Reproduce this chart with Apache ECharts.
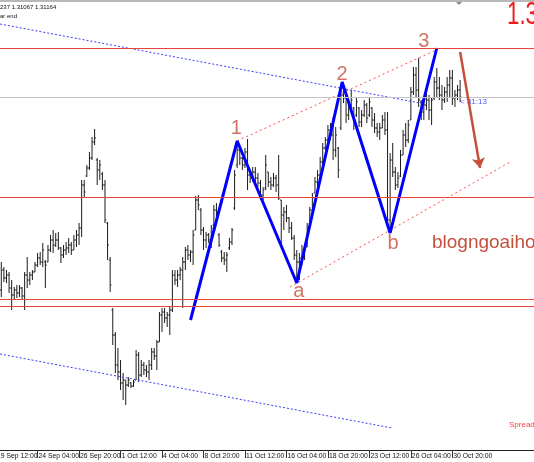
<!DOCTYPE html>
<html>
<head>
<meta charset="utf-8">
<script src="https://cdn.jsdelivr.net/npm/echarts@6/dist/echarts.min.js"></script>
<style>
  html, body { margin: 0; padding: 0; background: #fff; }
  #main { width: 534px; height: 462px; }
</style>
</head>
<body>
<div id="main"></div>
<script>
// H4 bars, 19 Sep - 30 Oct
let opens = [1.2923,1.2943,1.2935,1.2938,1.2925,1.2918,1.2923,1.2920,1.2925,1.2917,1.2938,1.2933,1.2938,1.2941,1.2948,1.2955,1.2951,1.2951,1.2951,1.2963,
1.2973,1.2968,1.2973,1.2965,1.2958,1.2963,1.2965,1.2968,1.2963,1.2973,1.2978,1.2985,1.3028,1.3037,1.3045,1.3055,1.3071,1.3053,1.3043,1.3039,
1.3028,1.2990,1.2953,1.2903,1.2878,1.2848,1.2841,1.2830,1.2833,1.2828,1.2830,1.2827,1.2833,1.2858,1.2838,1.2848,1.2843,1.2841,1.2848,1.2861,
1.2857,1.2871,1.2898,1.2901,1.2895,1.2898,1.2903,1.2938,1.2933,1.2938,1.2943,1.2951,1.2963,1.2958,1.2961,1.2983,1.3013,1.3003,1.2983,1.2973,
1.2978,1.2973,1.2988,1.3003,1.2978,1.2961,1.2955,1.2953,1.2965,1.2971,1.3005,1.3048,1.3063,1.3055,1.3048,1.3061,1.3038,1.3035,1.3041,1.3035,
1.3030,1.3018,1.3025,1.3041,1.3031,1.3028,1.3035,1.3028,1.3013,1.2998,1.3001,1.2995,1.2985,1.2975,1.2958,1.2951,1.2955,1.2958,1.2966,1.2986,
1.3003,1.3020,1.3031,1.3038,1.3051,1.3065,1.3073,1.3083,1.3078,1.3063,1.3065,1.3085,1.3118,1.3115,1.3098,1.3108,1.3105,1.3098,1.3105,1.3091,
1.3098,1.3108,1.3098,1.3105,1.3093,1.3085,1.3081,1.3085,1.3093,1.3083,1.2993,1.3053,1.3041,1.3028,1.3037,1.3058,1.3078,1.3073,1.3093,1.3121,
1.3138,1.3123,1.3111,1.3101,1.3108,1.3113,1.3103,1.3115,1.3131,1.3125,1.3118,1.3113,1.3121,1.3128,1.3135,1.3115,1.3118,1.3123];
let closes = [1.2943,1.2935,1.2938,1.2925,1.2918,1.2923,1.2920,1.2925,1.2917,1.2938,1.2933,1.2938,1.2941,1.2948,1.2955,1.2951,1.2963,1.2948,1.2963,1.2973,
1.2968,1.2973,1.2965,1.2958,1.2963,1.2965,1.2968,1.2963,1.2973,1.2978,1.2985,1.3028,1.3021,1.3045,1.3055,1.3071,1.3075,1.3043,1.3048,1.3028,
1.2993,1.2968,1.2928,1.2878,1.2848,1.2841,1.2830,1.2833,1.2828,1.2833,1.2827,1.2831,1.2858,1.2838,1.2848,1.2843,1.2841,1.2848,1.2861,1.2857,
1.2871,1.2898,1.2901,1.2895,1.2898,1.2903,1.2938,1.2933,1.2938,1.2943,1.2951,1.2963,1.2958,1.2961,1.2978,1.3013,1.3008,1.2983,1.2973,1.2978,
1.2973,1.2985,1.3003,1.2998,1.2968,1.2955,1.2953,1.2958,1.2971,1.2983,1.3038,1.3063,1.3055,1.3048,1.3061,1.3038,1.3035,1.3041,1.3035,1.3030,
1.3018,1.3023,1.3048,1.3031,1.3028,1.3035,1.3028,1.3015,1.2998,1.3001,1.2995,1.2985,1.2975,1.2958,1.2951,1.2955,1.2958,1.2963,1.2985,1.3003,
1.3015,1.3031,1.3038,1.3051,1.3065,1.3073,1.3083,1.3078,1.3063,1.3078,1.3043,1.3118,1.3115,1.3098,1.3108,1.3113,1.3093,1.3111,1.3091,1.3098,
1.3108,1.3095,1.3111,1.3093,1.3085,1.3081,1.3085,1.3093,1.3083,1.2993,1.3053,1.3041,1.3028,1.3035,1.3058,1.3078,1.3073,1.3088,1.3121,1.3138,
1.3123,1.3113,1.3101,1.3108,1.3113,1.3103,1.3113,1.3131,1.3125,1.3118,1.3113,1.3121,1.3128,1.3135,1.3115,1.3118,1.3123,1.3116];
let lows = [1.2916,1.2931,1.2930,1.2920,1.2903,1.2913,1.2915,1.2916,1.2913,1.2903,1.2925,1.2928,1.2933,1.2941,1.2946,1.2948,1.2946,1.2925,1.2951,1.2961,
1.2960,1.2966,1.2963,1.2950,1.2955,1.2958,1.2960,1.2958,1.2963,1.2966,1.2968,1.2976,1.3015,1.3036,1.3043,1.3053,1.3068,1.3028,1.3033,1.3023,
1.2990,1.2953,1.2921,1.2868,1.2840,1.2833,1.2823,1.2813,1.2808,1.2826,1.2825,1.2826,1.2833,1.2831,1.2836,1.2838,1.2836,1.2833,1.2843,1.2853,
1.2843,1.2871,1.2881,1.2890,1.2886,1.2878,1.2901,1.2928,1.2926,1.2933,1.2905,1.2943,1.2953,1.2951,1.2948,1.2983,1.3003,1.2978,1.2963,1.2965,
1.2970,1.2965,1.2986,1.2996,1.2966,1.2951,1.2948,1.2941,1.2963,1.2968,1.3003,1.3045,1.3048,1.3043,1.3045,1.3023,1.3030,1.3031,1.3031,1.3026,
1.3013,1.3013,1.3023,1.3026,1.3023,1.3026,1.3021,1.3013,1.2968,1.2983,1.2991,1.2980,1.2973,1.2953,1.2931,1.2933,1.2948,1.2953,1.2966,1.2986,
1.3000,1.3020,1.3025,1.3036,1.3048,1.3063,1.3070,1.3073,1.3053,1.3056,1.3035,1.3083,1.3110,1.3090,1.3093,1.3106,1.3083,1.3096,1.3086,1.3086,
1.3096,1.3090,1.3096,1.3086,1.3080,1.3076,1.3073,1.3085,1.3078,1.2985,1.2980,1.3036,1.3023,1.3025,1.3036,1.3058,1.3066,1.3070,1.3093,1.3118,
1.3116,1.3106,1.3093,1.3093,1.3103,1.3093,1.3088,1.3113,1.3116,1.3113,1.3103,1.3110,1.3111,1.3115,1.3108,1.3106,1.3113,1.3111];
let highs = [1.2951,1.2946,1.2943,1.2941,1.2933,1.2926,1.2928,1.2928,1.2926,1.2941,1.2956,1.2941,1.2943,1.2951,1.2960,1.2961,1.2970,1.2953,1.2968,1.2978,
1.2983,1.2980,1.2981,1.2966,1.2968,1.2971,1.2975,1.2971,1.2978,1.2983,1.2990,1.3033,1.3033,1.3048,1.3061,1.3076,1.3084,1.3055,1.3053,1.3041,
1.3033,1.2991,1.2956,1.2905,1.2881,1.2865,1.2853,1.2840,1.2833,1.2836,1.2831,1.2833,1.2863,1.2861,1.2853,1.2851,1.2848,1.2853,1.2865,1.2865,
1.2873,1.2901,1.2905,1.2905,1.2901,1.2906,1.2943,1.2943,1.2943,1.2946,1.2956,1.2966,1.2968,1.2963,1.2983,1.3017,1.3018,1.3005,1.2986,1.2981,
1.2980,1.2988,1.3008,1.3010,1.2980,1.2963,1.2961,1.2961,1.2975,1.2985,1.3043,1.3071,1.3065,1.3056,1.3065,1.3074,1.3043,1.3046,1.3046,1.3040,
1.3033,1.3026,1.3058,1.3041,1.3036,1.3040,1.3038,1.3058,1.3013,1.3006,1.3008,1.2996,1.2991,1.2978,1.2963,1.2960,1.2968,1.2966,1.2990,1.3006,
1.3020,1.3036,1.3043,1.3056,1.3070,1.3076,1.3088,1.3090,1.3096,1.3086,1.3066,1.3123,1.3131,1.3120,1.3113,1.3123,1.3106,1.3115,1.3106,1.3103,
1.3113,1.3110,1.3115,1.3106,1.3100,1.3090,1.3090,1.3098,1.3101,1.3101,1.3060,1.3070,1.3046,1.3041,1.3063,1.3083,1.3090,1.3093,1.3126,1.3146,
1.3146,1.3155,1.3113,1.3113,1.3120,1.3118,1.3116,1.3136,1.3145,1.3136,1.3128,1.3126,1.3136,1.3143,1.3143,1.3123,1.3128,1.3133];

// time axis labels (bar index -> text); the first one sits just left of the chart
let firstTickText = '19 Sep 12:00';
let tickIdx = [14, 30, 46, 62, 78, 94, 110, 126, 142, 158, 174];
let tickText = ['24 Sep 04:00','26 Sep 20:00','1 Oct 12:00','4 Oct 04:00','8 Oct 20:00',
                '11 Oct 12:00','16 Oct 04:00','18 Oct 20:00','23 Oct 12:00','26 Oct 04:00','30 Oct 20:00'];

// elliott wave: start,1,a,2,b,3
let waveIdx = [73, 91, 114, 131.5, 150, 168];
let wavePrice = [1.2893, 1.3072, 1.2930, 1.3131, 1.2980, 1.3165];
let waveNames = ['', '1', 'a', '2', 'b', '3'];

// drawn objects
let upperChIdx = [91, 167.7],   upperChPrice = [1.3072, 1.3163];
let lowerChIdx = [111.4, 196.3], lowerChPrice = [1.2926, 1.3051];
let topDotIdx = [-0.5, 163.5],  topDotPrice = [1.3189, 1.3109];
let lowDotIdx = [-0.5, 150.7],  lowDotPrice = [1.2859, 1.2785];
let arrowIdx = [177, 184.7],    arrowPrice = [1.3161, 1.3045];
let redLevels = [1.3165, 1.3016, 1.2914, 1.2907];
let bidLevel = 1.3116;

let txtRed = '#c4503c';
let axisFont = '"Liberation Sans Narrow", "Liberation Sans", Arial, sans-serif';

let myChart = echarts.init(document.getElementById('main'));

let bars = [];
for (let i = 0; i < opens.length; i++) {
  bars.push([i, opens[i], closes[i], lows[i], highs[i]]);
}

function renderOhlc (params, api) {
  let i = api.value(0);
  let pO = api.coord([i, api.value(1)]);
  let pC = api.coord([i, api.value(2)]);
  let pL = api.coord([i, api.value(3)]);
  let pH = api.coord([i, api.value(4)]);
  let x = pH[0];
  let st = { stroke: '#1c1c1c', lineWidth: 1 };
  return {
    type: 'group',
    children: [
      { type: 'line', shape: { x1: x, y1: pH[1], x2: x, y2: pL[1] }, style: st },
      { type: 'line', shape: { x1: x - 1.3, y1: pO[1], x2: x, y2: pO[1] }, style: st },
      { type: 'line', shape: { x1: x, y1: pC[1], x2: x + 1.3, y2: pC[1] }, style: st }
    ]
  };
}

function pairs (xs, ys) {
  return xs.map((x, k) => [x, ys[k]]);
}

let levelLines = redLevels.map(v => ({ yAxis: v, lineStyle: { color: '#e8463c', width: 1, type: 'solid' } }));
levelLines.push({ yAxis: bidLevel, lineStyle: { color: '#c4c4c4', width: 1, type: 'solid' } });

let waveLabelOffset = [[0, 0], [-1, -13], [2, 8], [0, -8], [3, 10], [-13, -7]];
let waveLabels = [];
for (let k = 1; k < waveIdx.length; k++) {
  waveLabels.push({
    value: [waveIdx[k], wavePrice[k]],
    label: { show: true, formatter: waveNames[k], position: 'inside', offset: waveLabelOffset[k] }
  });
}

let option = {
  animation: false,
  backgroundColor: '#ffffff',
  grid: { left: 0, right: 0, top: 0, bottom: 12, containLabel: false },
  xAxis: {
    type: 'value',
    min: -0.5,
    max: 205.5,
    axisLine: { show: true, lineStyle: { color: '#222', width: 1 } },
    axisTick: { show: true, customValues: tickIdx, length: 8, lineStyle: { color: '#333' } },
    axisLabel: {
      customValues: tickIdx,
      formatter: function (v) {
        let k = tickIdx.indexOf(Math.round(v));
        return k >= 0 ? tickText[k] : '';
      },
      align: 'left',
      margin: 2.5,
      padding: [0, 0, 0, 1],
      fontSize: 6.8,
      fontFamily: axisFont,
      color: '#111'
    },
    splitLine: { show: false }
  },
  yAxis: {
    type: 'value',
    min: 1.2763,
    max: 1.3213,
    show: false,
    splitLine: { show: false }
  },
  series: [
    {
      type: 'line',
      data: [],
      silent: true,
      markLine: { silent: true, precision: 5, symbol: ['none', 'none'], label: { show: false }, data: levelLines },
      z: 1
    },
    {
      type: 'custom',
      renderItem: renderOhlc,
      data: bars,
      encode: { x: 0, y: [1, 2, 3, 4] },
      silent: true,
      z: 2
    },
    {
      type: 'line',
      data: pairs(topDotIdx, topDotPrice),
      symbol: 'none',
      lineStyle: { color: '#3c3cff', width: 1, type: [2, 2] },
      silent: true, z: 3
    },
    {
      type: 'line',
      data: pairs(lowDotIdx, lowDotPrice),
      symbol: 'none',
      lineStyle: { color: '#3c3cff', width: 1, type: [2, 2] },
      silent: true, z: 3
    },
    {
      type: 'line',
      data: pairs(upperChIdx, upperChPrice),
      symbol: 'none',
      lineStyle: { color: '#ff4a4a', width: 1, type: [2, 3] },
      silent: true, z: 3
    },
    {
      type: 'line',
      data: pairs(lowerChIdx, lowerChPrice),
      symbol: 'none',
      lineStyle: { color: '#ff4a4a', width: 1, type: [2, 3] },
      silent: true, z: 3
    },
    {
      type: 'line',
      data: pairs(waveIdx, wavePrice),
      symbol: 'none',
      lineStyle: { color: '#0000ff', width: 3 },
      silent: true, z: 4
    },
    {
      type: 'line',
      data: [],
      silent: true,
      markLine: {
        silent: true,
        precision: 5,
        symbol: ['none', 'arrow'],
        symbolSize: 10,
        label: { show: false },
        lineStyle: { color: '#c4503c', width: 2.5, type: 'solid' },
        data: [[{ coord: [arrowIdx[0], arrowPrice[0]] }, { coord: [arrowIdx[1], arrowPrice[1]] }]]
      },
      z: 4
    },
    {
      type: 'scatter',
      data: waveLabels,
      symbolSize: 0,
      silent: true,
      label: { color: txtRed, fontSize: 20, fontFamily: '"Liberation Sans", Arial, sans-serif' },
      z: 5
    }
  ],
  graphic: [
    { type: 'rect', shape: { x: 0, y: 0, width: 534, height: 2 }, style: { fill: '#b8b8b8' }, silent: true },
    { type: 'polygon', shape: { points: [[456, 2], [462, 2], [459, 5]] }, style: { fill: '#8c8c8c' }, silent: true },
    { type: 'line', shape: { x1: -3.4, y1: 450, x2: -3.4, y2: 458 }, style: { stroke: '#333', lineWidth: 1 } },
    { type: 'text', x: -3, y: 452.5, style: { text: firstTickText, fill: '#111', font: '6.8px ' + axisFont } },
    { type: 'text', x: 0, y: 7, style: { text: '237 1.31067 1.31164', fill: '#111', font: '6px "Liberation Sans", Arial', textVerticalAlign: 'middle' } },
    { type: 'text', x: 0, y: 16, style: { text: 'ar end', fill: '#111', font: '6px "Liberation Sans", Arial', textVerticalAlign: 'middle' } },
    { type: 'text', x: 507, y: 15, scaleX: 0.72, style: { text: '1.3', fill: '#ee1a1a', font: '31px "Liberation Sans", Arial', textVerticalAlign: 'middle' } },
    { type: 'text', x: 432, y: 243, style: { text: 'blogngoaihoi.com', fill: txtRed, font: '19px "Liberation Sans", Arial', textVerticalAlign: 'middle' } },
    { type: 'text', x: 460, y: 101.5, style: { text: '< 31:13', fill: '#5a5aff', font: '8px "Liberation Sans", Arial', textVerticalAlign: 'middle' } },
    { type: 'text', x: 509, y: 425, style: { text: 'Spread', fill: '#ff3c3c', font: '8px "Liberation Sans", Arial', textVerticalAlign: 'middle' } }
  ]
};

myChart.setOption(option);
</script>
</body>
</html>
